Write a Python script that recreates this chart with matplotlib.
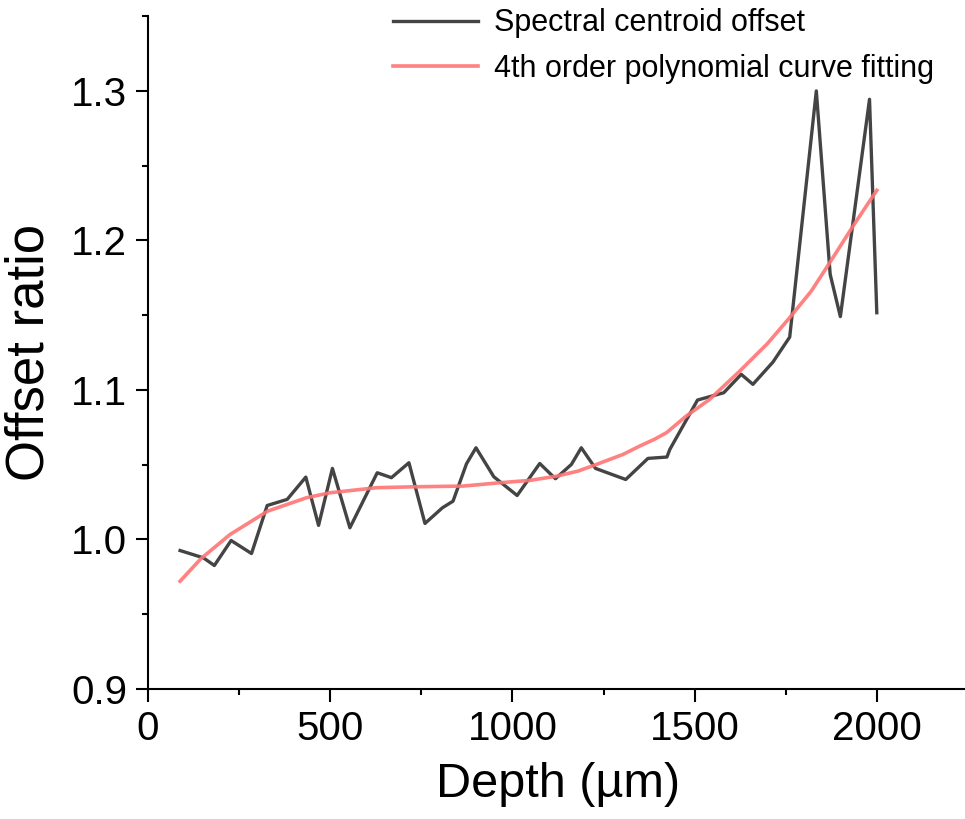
import matplotlib
matplotlib.use("Agg")
import matplotlib.pyplot as plt
from matplotlib.ticker import MultipleLocator

plt.rcParams['font.family'] = ['Liberation Sans', 'DejaVu Sans']

# Spectral centroid offset
depth = [88, 152, 182, 228, 284, 327, 382, 433, 468, 506, 554, 629, 668, 716, 760,
         808, 837, 874, 900, 949, 1013, 1075, 1118, 1162, 1189, 1228, 1311, 1372,
         1424, 1432, 1508, 1580, 1628, 1660, 1715, 1761, 1834, 1872, 1900, 1980, 2000]
offset = [0.9926, 0.9877, 0.9826, 0.9993, 0.9906, 1.0227, 1.0268, 1.0417, 1.0094,
          1.0475, 1.0078, 1.0446, 1.0413, 1.0513, 1.0107, 1.0212, 1.0256, 1.0506,
          1.0613, 1.0419, 1.0294, 1.0508, 1.0406, 1.0502, 1.0613, 1.0475, 1.0401,
          1.0542, 1.0551, 1.0602, 1.0932, 1.0981, 1.1104, 1.1037, 1.1186, 1.1353,
          1.2999, 1.1773, 1.1490, 1.2943, 1.1516]

# 4th order polynomial fit curve
fit_depth = [88, 145, 225, 328, 435, 499, 627, 728, 865, 965, 1048, 1121, 1180, 1231,
             1304, 1349, 1390, 1423, 1477, 1541, 1624, 1700, 1761, 1820, 1871, 1935, 2000]
fit_value = [0.9721, 0.9871, 1.0033, 1.0189, 1.0279, 1.0312, 1.0346, 1.0352, 1.0357,
             1.0379, 1.0395, 1.0423, 1.0457, 1.0502, 1.0569, 1.0624, 1.0670, 1.0714,
             1.0825, 1.0936, 1.1126, 1.1310, 1.1483, 1.1660, 1.1851, 1.2096, 1.2334]

labels = ["Spectral centroid offset", "4th order polynomial curve fitting"]

fig = plt.figure(figsize=(9.65, 8.19), dpi=100)
ax = fig.add_axes([0.1534, 0.1587, 0.8496, 0.8218])

ax.plot(depth, offset, color='#444444', lw=2.4, label=labels[0], zorder=2)
ax.plot(fit_depth, fit_value, color='#ff7474', alpha=0.9, lw=2.6, label=labels[1], zorder=3)

ax.set_xlim(0, 2250)
ax.set_ylim(0.9, 1.35)
ax.xaxis.set_major_locator(MultipleLocator(500))
ax.xaxis.set_minor_locator(MultipleLocator(250))
ax.yaxis.set_major_locator(MultipleLocator(0.1))
ax.yaxis.set_minor_locator(MultipleLocator(0.05))
ax.yaxis.set_major_formatter(matplotlib.ticker.FormatStrFormatter('%.1f'))

for s in ['top', 'right']:
    ax.spines[s].set_visible(False)
for s in ['left', 'bottom']:
    ax.spines[s].set_linewidth(1.5)

ax.tick_params(which='major', direction='out', length=9, width=1.5, labelsize=29, pad=6)
ax.tick_params(which='minor', direction='out', length=4.5, width=1.5)

ax.set_xlabel("Depth (µm)", fontsize=35, labelpad=10)
ax.set_ylabel("Offset ratio", fontsize=38, labelpad=12)

ax.legend(loc='upper left', bbox_to_anchor=(0.385, 1.016), bbox_transform=fig.transFigure,
          frameon=False, fontsize=22, handlelength=2.8, handletextpad=0.5,
          labelspacing=0.5, borderpad=0.2)

fig.savefig("out.png", dpi=100)
